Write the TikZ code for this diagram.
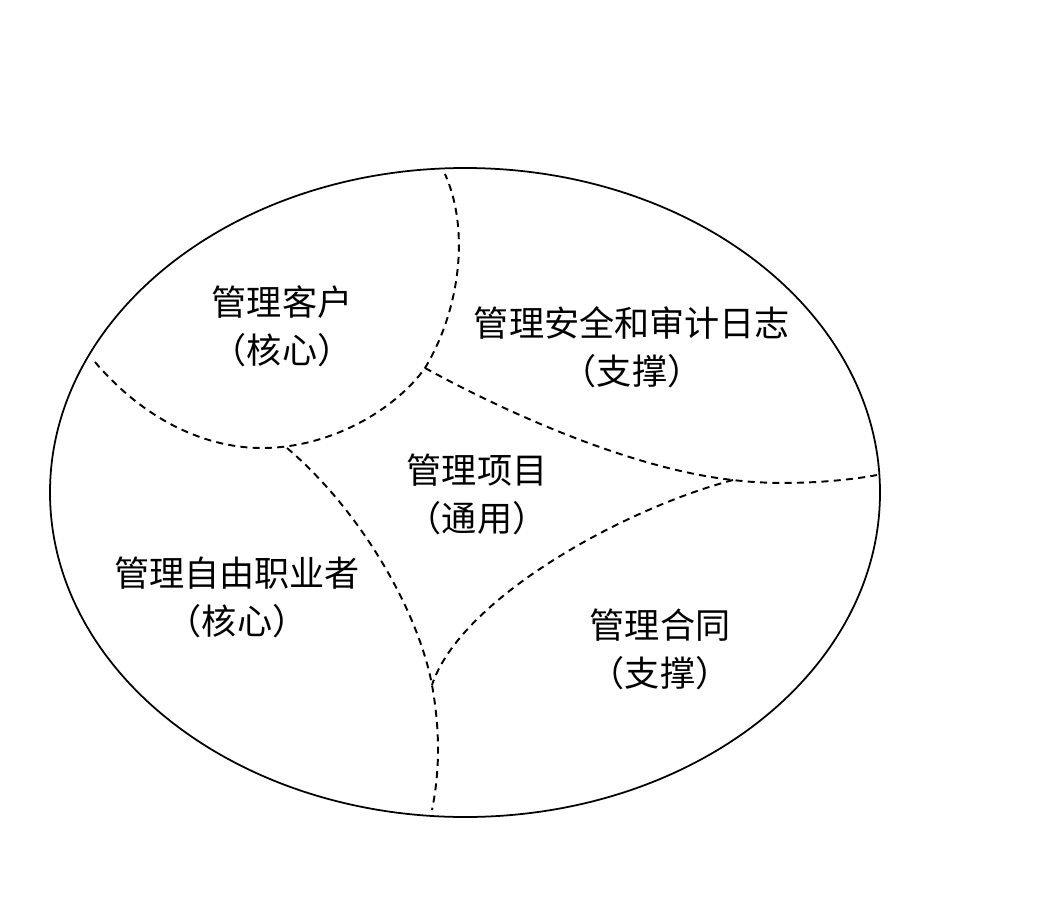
\documentclass[tikz,border=0pt]{standalone}
\usepackage{fontspec}
\newfontfamily\cjk{Noto Sans CJK SC}
\tikzset{
  area/.style={align=center, font=\cjk\fontsize{20}{27.2}\selectfont},
  cut/.style={dashed, dash pattern=on 4pt off 3pt, line width=1.1pt}
}
\begin{document}
\begin{tikzpicture}[x=0.02cm, y=-0.02cm]
    \useasboundingbox (0,0) rectangle (1040,916);
    \draw[line width=1pt] (465,492.5) ellipse (415 and 324.5);
    % junctions and ends of the cuts
    \coordinate (top) at (445,174);
    \coordinate (left) at (95,362);
    \coordinate (right) at (877,475);
    \coordinate (bottom) at (432,810);
    \coordinate (jA) at (425,368);
    \coordinate (jB) at (287,448);
    \coordinate (jC) at (733,480);
    \coordinate (jD) at (432,685);
    % cuts
    \draw[cut] (left) .. controls (140,415) and (200,448) .. (262,448)
        .. controls (330,448) and (395,410) .. (jA)
        .. controls (460,310) and (470,230) .. (top);
    \draw[cut] (jA) .. controls (520,420) and (640,470) .. (jC)
        .. controls (780,486) and (840,482) .. (right);
    \draw[cut] (jB) .. controls (360,510) and (418,610) .. (jD)
        .. controls (440,730) and (440,770) .. (bottom);
    \draw[cut] (jC) .. controls (620,510) and (460,600) .. (jD);
    % areas
    \node[area] (kehu) at (282,326) {管理客户\\（核心）};
    \node[area] (anquan) at (632,347) {管理安全和审计日志\\（支撑）};
    \node[area] (xiangmu) at (477,494) {管理项目\\（通用）};
    \node[area] (ziyou) at (237,597) {管理自由职业者\\（核心）};
    \node[area] (hetong) at (660,649) {管理合同\\（支撑）};
\end{tikzpicture}
\end{document}
